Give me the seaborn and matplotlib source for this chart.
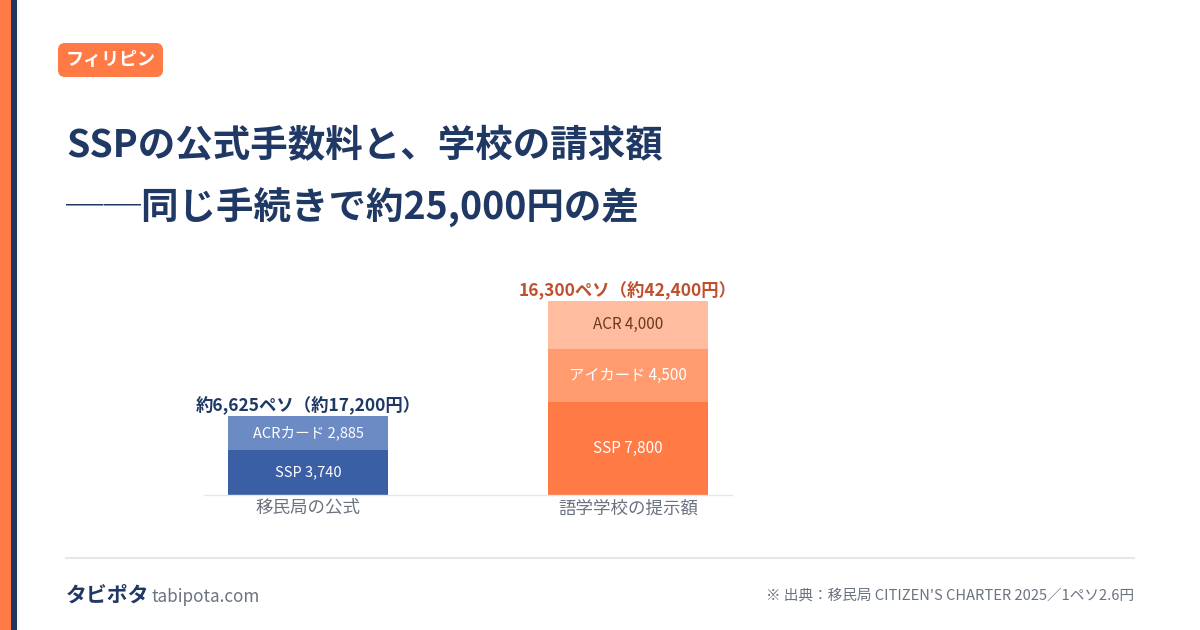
import matplotlib
matplotlib.use("Agg")
import matplotlib.pyplot as plt
from matplotlib.patches import Rectangle, FancyBboxPatch
import pandas as pd
import seaborn as sns

sns.set_theme(style="white")
plt.rcParams['font.family'] = ['Noto Sans CJK JP', 'DejaVu Sans']

categories = ["移民局の公式", "語学学校の提示額"]
seg_category = ["移民局の公式", "移民局の公式", "語学学校の提示額", "語学学校の提示額", "語学学校の提示額"]
seg_values = [3740, 2885, 7800, 4500, 4000]
seg_labels = ["SSP 3,740", "ACRカード 2,885", "SSP 7,800", "アイカード 4,500", "ACR 4,000"]
seg_colors = ["#3A5FA5", "#6C8BC4", "#FF7A45", "#FF9B6E", "#FFBC9F"]
seg_text = ["white", "white", "white", "white", "#6B3A20"]
seg_fontsize = [10.5, 10.5, 11, 11, 11]
total_labels = ["約6,625ペソ（約17,200円）", "16,300ペソ（約42,400円）"]
total_colors = ["#1F3864", "#C0502D"]

W, H = 1200, 630
fig = plt.figure(figsize=(12, 6.3), dpi=100, facecolor="white")
def fx(x): return x / W
def fy(y): return 1 - y / H

bg = fig.add_axes([0, 0, 1, 1], zorder=0)
bg.set_xlim(0, W); bg.set_ylim(H, 0); bg.axis("off")
bg.add_patch(Rectangle((0, 0), 11, H, color="#FF7A45", lw=0))
bg.add_patch(Rectangle((11, 0), 6, H, color="#1F3864", lw=0))
bg.add_patch(FancyBboxPatch((58, 43), 105, 34, boxstyle="round,pad=0,rounding_size=7", color="#FF7A45", lw=0))
bg.text(110.5, 59.5, "フィリピン", color="white", fontsize=13, fontweight="bold", ha="center", va="center")
bg.text(66, 145.5, "SSPの公式手数料と、学校の請求額", color="#1F3864", fontsize=27, fontweight="bold", va="center")
bg.text(66, 207.5, "──同じ手続きで約25,000円の差", color="#1F3864", fontsize=27, fontweight="bold", va="center")
bg.plot([65, 1135], [558, 558], color="#E5E7EB", lw=1.5, solid_capstyle="butt")
bg.text(66, 595.5, "タビポタ", color="#1F3864", fontsize=15, fontweight="bold", va="center")
bg.text(151, 596.5, "tabipota.com", color="#6B7280", fontsize=12.3, va="center")
bg.text(1134, 596, "※ 出典：移民局 CITIZEN'S CHARTER 2025／1ペソ2.6円", color="#6B7280", fontsize=10.55, va="center", ha="right")

# plot axes: pixels x 204..732, y 270..495
ax = fig.add_axes([fx(204), fy(495), 528 / W, 225 / H], zorder=1)
ax.patch.set_alpha(0)
df = pd.DataFrame({"group": seg_category, "val": seg_values})
bottoms = {c: 0 for c in categories}
for i in range(len(seg_values)):
    group, val = seg_category[i], seg_values[i]
    b = bottoms[group]
    sns.barplot(data=df.iloc[[i]], x="group", y="val", order=categories, color=seg_colors[i], width=0.5,
                bottom=b, ax=ax, saturation=1, errorbar=None, linewidth=0)
    ax.text(categories.index(group), b + val / 2 + 30, seg_labels[i], color=seg_text[i],
            fontsize=seg_fontsize[i], ha="center", va="center")
    bottoms[group] = b + val
for j, c in enumerate(categories):
    ax.annotate(total_labels[j], (j, bottoms[c]), xytext=(0, 0.8), textcoords="offset points",
                color=total_colors[j], fontsize=12.5, fontweight="bold", ha="center", va="bottom")
ax.set_xlim(-0.325, 1.325)
ax.set_ylim(0, 225 / 0.0119)
ax.set_xlabel(""); ax.set_ylabel("")
ax.set_yticks([])
for s in ["top", "left", "right"]:
    ax.spines[s].set_visible(False)
ax.spines["bottom"].set_color("#E5E7EB")
ax.spines["bottom"].set_linewidth(1)
ax.tick_params(axis="x", length=0, pad=3, labelsize=12.6, labelcolor="#6B7280")
fig.savefig("out.png", dpi=100)
